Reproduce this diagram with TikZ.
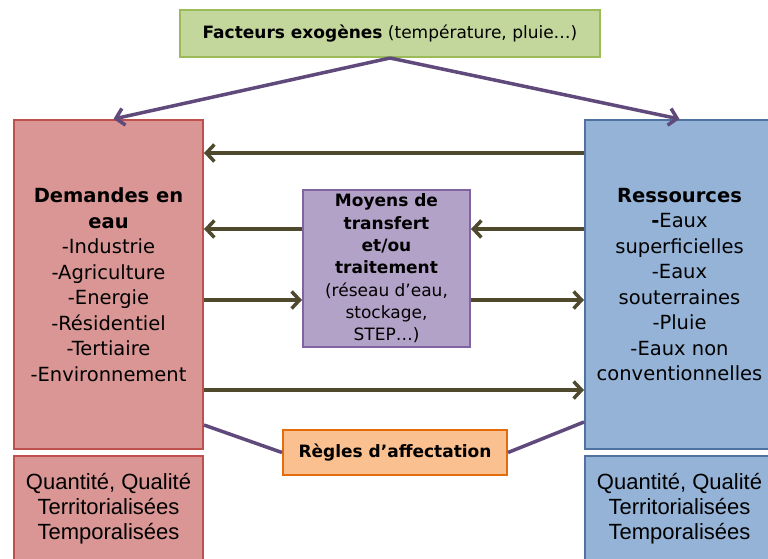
\documentclass[tikz,border=0pt]{standalone}
\usepackage{fontspec}
\setmainfont{DejaVu Sans}
\newfontfamily\narrowfont{Liberation Sans}
\usetikzlibrary{arrows.meta}
\definecolor{vertfond}{RGB}{195,214,155}
\definecolor{vertbord}{RGB}{155,187,89}
\definecolor{rougefond}{RGB}{217,150,148}
\definecolor{rougebord}{RGB}{192,80,77}
\definecolor{bleufond}{RGB}{149,179,215}
\definecolor{bleubord}{RGB}{79,114,160}
\definecolor{violetfond}{RGB}{179,162,199}
\definecolor{violetbord}{RGB}{128,100,162}
\definecolor{orangefond}{RGB}{250,192,144}
\definecolor{orangebord}{RGB}{228,108,10}
\definecolor{olive}{RGB}{79,74,46}
\definecolor{violetfil}{RGB}{96,74,123}
\begin{document}
\begin{tikzpicture}[x=1pt,y=-1pt,
  boite/.style={draw,line width=2pt,align=center,inner sep=0pt},
  flux/.style={draw=olive,line width=3.5pt,-{Straight Barb[length=8pt,width=17pt,line width=3.5pt]}},
  lien/.style={draw=violetfil,line width=3.5pt},
  grand/.style={font=\fontsize{19.5}{25.5}\selectfont},
  moyen/.style={font=\fontsize{17}{22.3}\selectfont},
  etroit/.style={font=\narrowfont\fontsize{22}{25}\selectfont}]
\useasboundingbox (0,0) rectangle (768,558);
\clip (0,0) rectangle (768,558);
%Facteurs
\node (exo) at (390,33.5) [boite,fill=vertfond,draw=vertbord,minimum width=420pt,minimum height=47pt,moyen]
  {\textbf{Facteurs exogènes} (température, pluie…)};
%Demandes et ressources
\node (dem) at (108.5,284.5) [boite,fill=rougefond,draw=rougebord,minimum width=189pt,minimum height=329pt,grand]
  {\textbf{Demandes en}\\\textbf{eau}\\-Industrie\\-Agriculture\\-Energie\\-Résidentiel\\-Tertiaire\\-Environnement};
\node (res) at (679.5,284.5) [boite,fill=bleufond,draw=bleubord,minimum width=189pt,minimum height=329pt,grand]
  {\textbf{Ressources}\\\textbf{-}Eaux\\superficielles\\-Eaux\\souterraines\\-Pluie\\-Eaux non\\conventionnelles};
\node (demq) at (108.5,509) [boite,fill=rougefond,draw=rougebord,minimum width=189pt,minimum height=106pt,etroit]
  {Quantité, Qualité\\Territorialisées\\Temporalisées};
\node (resq) at (679.5,509) [boite,fill=bleufond,draw=bleubord,minimum width=189pt,minimum height=106pt,etroit]
  {Quantité, Qualité\\Territorialisées\\Temporalisées};
%Moyens et regles
\node (moy) at (386.5,268.5) [boite,fill=violetfond,draw=violetbord,minimum width=167pt,minimum height=157pt,moyen]
  {\textbf{Moyens de}\\\textbf{transfert}\\\textbf{et/ou}\\\textbf{traitement}\\(réseau d’eau,\\stockage,\\STEP…)};
\node (regles) at (395,452.5) [boite,fill=orangefond,draw=orangebord,minimum width=224pt,minimum height=45pt,moyen]
  {\textbf{Règles d’affectation}};
%fleches
\draw[flux] ([yshift=131.5pt]res.west) -- ([yshift=131.5pt]dem.east);
\draw[flux] ([yshift=39.5pt]moy.west) -- ([yshift=55.5pt]dem.east);
\draw[flux] ([yshift=55.5pt]res.west) -- ([yshift=39.5pt]moy.east);
\draw[flux] ([yshift=-15.5pt]dem.east) -- ([yshift=-31.5pt]moy.west);
\draw[flux] ([yshift=-31.5pt]moy.east) -- ([yshift=-15.5pt]res.west);
\draw[flux] ([yshift=-105.5pt]dem.east) -- ([yshift=-105.5pt]res.west);
\draw[lien,-{Straight Barb[length=8pt,width=17pt,line width=3.5pt]}] (exo.south) -- ([xshift=5pt]dem.north);
\draw[lien,-{Straight Barb[length=8pt,width=17pt,line width=3.5pt]}] (exo.south) -- (res.north);
\draw[lien] ([yshift=-140.5pt]dem.east) -- (regles.west);
\draw[lien] (regles.east) -- ([yshift=-137.5pt]res.west);
\end{tikzpicture}
\end{document}
